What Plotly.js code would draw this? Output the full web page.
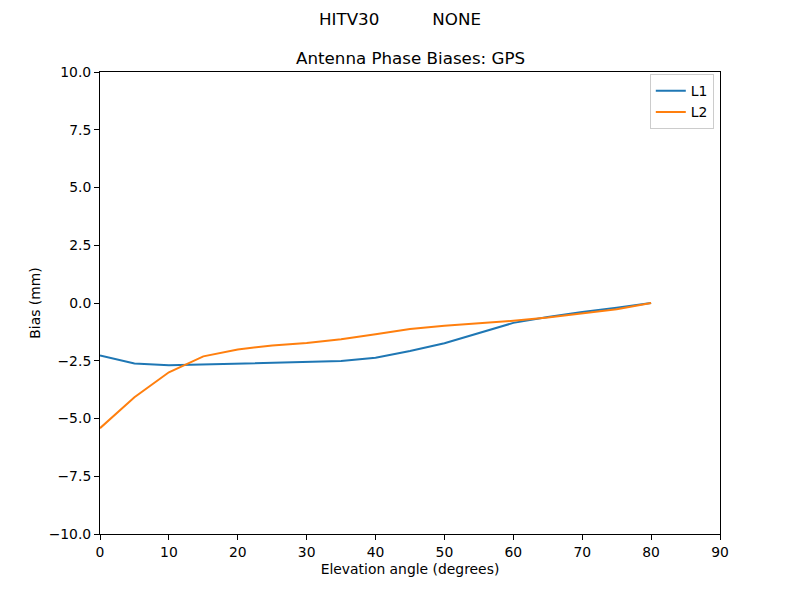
<!DOCTYPE html>
<html><head><meta charset="utf-8">
<script src="https://cdn.plot.ly/plotly-3.0.1.min.js"></script>
<style>body{margin:0;}#chart{width:800px;height:600px;}</style>
</head><body><div id="chart"></div>
<script>
const elevation = [0,5,10,15,20,25,30,35,40,45,50,55,60,65,70,75,80];
const l1Bias = [-2.27,-2.62,-2.70,-2.66,-2.65,-2.60,-2.55,-2.51,-2.37,-2.08,-1.74,-1.31,-0.86,-0.61,-0.39,-0.21,0.0];
const l2Bias = [-5.42,-4.08,-3.0,-2.31,-2.01,-1.84,-1.73,-1.57,-1.35,-1.13,-0.99,-0.89,-0.77,-0.63,-0.46,-0.27,0.0];
const yTicks = [-10,-7.5,-5,-2.5,0,2.5,5,7.5,10];
const yTickText = ['\u221210.0','\u22127.5','\u22125.0','\u22122.5','0.0','2.5','5.0','7.5','10.0'];
const xTicks = [0,10,20,30,40,50,60,70,80,90];

const font = {family:'DejaVu Sans', size:13.9, color:'#000'};
const titleFont = {family:'DejaVu Sans', size:16.7, color:'#000'};
const data = [
  {x: elevation, y: l1Bias, name:'L1', mode:'lines', line:{color:'#1f77b4', width:2}},
  {x: elevation, y: l2Bias, name:'L2', mode:'lines', line:{color:'#ff7f0e', width:2}}
];
const axisCommon = {showgrid:false, zeroline:false, showline:true, mirror:true, linecolor:'#000', linewidth:1,
  ticks:'outside', ticklen:5, tickwidth:1, tickcolor:'#000', tickfont:font};
const layout = {
  width:800, height:600, font:font,
  paper_bgcolor:'#fff', plot_bgcolor:'#fff',
  margin:{l:100, r:80, t:72, b:66},
  showlegend:true,
  legend:{x:0.99, y:0.995, xanchor:'right', yanchor:'top', bordercolor:'#ccc', borderwidth:1, bgcolor:'#fff', font:font, tracegroupgap:0, itemwidth:30},
  xaxis: Object.assign({}, axisCommon, {range:[0,90], tickvals:xTicks,
    title:{text:'Elevation angle (degrees)', font:font, standoff:5}}),
  yaxis: Object.assign({}, axisCommon, {range:[-10,10], tickvals:yTicks, ticktext:yTickText,
    title:{text:'Bias (mm)', font:font, standoff:4}}),
  annotations:[
    {text:'HITV30          NONE', xref:'paper', yref:'paper', x:(400-100)/620, y:1, yshift:53, xanchor:'center', yanchor:'middle', showarrow:false, font:titleFont},
    {text:'Antenna Phase Biases: GPS', xref:'paper', yref:'paper', x:0.5, y:1, yshift:14, xanchor:'center', yanchor:'middle', showarrow:false, font:titleFont}
  ]
};
Plotly.newPlot('chart', data, layout, {displayModeBar:false});
</script></body></html>
